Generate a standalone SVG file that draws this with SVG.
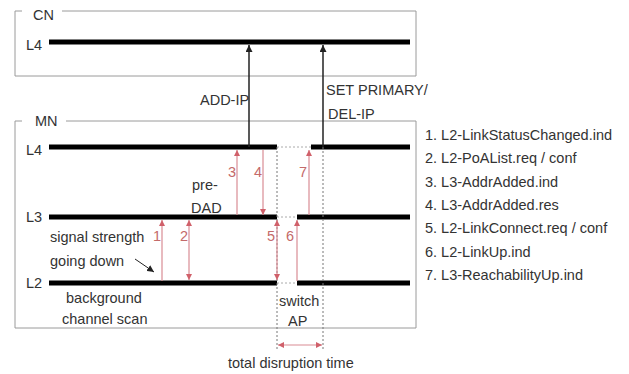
<svg xmlns="http://www.w3.org/2000/svg" width="629" height="374" viewBox="0 0 629 374">
<style>
text{font-family:"Liberation Sans",Arial,sans-serif;font-size:14.5px;fill:#333}
.box{fill:none;stroke:#9a9a9a;stroke-width:1}
.lane{stroke:#000;stroke-width:5}
.gap{stroke:#aaa;stroke-width:1;stroke-dasharray:2 2}
.dot{stroke:#777;stroke-width:1;stroke-dasharray:2 2}
.blk{stroke:#222;stroke-width:1.5;fill:none}
.red{stroke:#d98c94;stroke-width:1.2;fill:none}
.rt{fill:#c46a6a}
</style>
<defs>
<marker id="ab" viewBox="0 0 10 10" refX="10" refY="5" markerWidth="7" markerHeight="7" markerUnits="userSpaceOnUse" orient="auto-start-reverse"><path d="M0,0 L10,5 L0,10 z" fill="#222"/></marker>
<marker id="ar" viewBox="0 0 10 10" refX="10" refY="5" markerWidth="6" markerHeight="6" markerUnits="userSpaceOnUse" orient="auto-start-reverse"><path d="M0,0 L10,5 L0,10 z" fill="#d0606a"/></marker>
</defs>
<rect width="629" height="374" fill="#fff"/>

<g id="cn">
<path class="box" d="M22,11 H15 V76 H416 V11 H62"/>
<text x="33" y="20">CN</text>
<text x="26" y="50">L4</text>
<line class="lane" x1="49" y1="42" x2="410" y2="42"/>
</g>

<g id="mn">
<path class="box" d="M22,121 H15 V328 H416 V121 H66"/>
<text x="35" y="126">MN</text>
<text x="26" y="155">L4</text>
<text x="26" y="222">L3</text>
<text x="26" y="288">L2</text>
</g>

<g id="mn-l4">
<line class="lane" x1="49" y1="147" x2="277" y2="147"/>
<line class="lane" x1="311" y1="147" x2="410" y2="147"/>
<line class="gap" x1="277" y1="147" x2="311" y2="147"/>
</g>
<g id="mn-l3">
<line class="lane" x1="49" y1="217" x2="277" y2="217"/>
<line class="lane" x1="297" y1="217" x2="410" y2="217"/>
<line class="gap" x1="277" y1="217" x2="297" y2="217"/>
</g>
<g id="mn-l2">
<line class="lane" x1="49" y1="283" x2="277" y2="283"/>
<line class="lane" x1="297" y1="283" x2="410" y2="283"/>
<line class="gap" x1="277" y1="283" x2="297" y2="283"/>
</g>

<g id="labels">
<text x="200" y="105">ADD-IP</text>
<text x="326" y="95">SET PRIMARY/</text>
<text x="328" y="119">DEL-IP</text>
<text x="192" y="190">pre-</text>
<text x="191" y="213">DAD</text>
<text x="50" y="242">signal strength</text>
<text x="50" y="266">going down</text>
<text x="66" y="303">background</text>
<text x="62" y="324">channel scan</text>
<text x="279" y="306">switch</text>
<text x="288" y="326">AP</text>
<text x="228" y="368">total disruption time</text>
</g>

<g id="legend">
<text x="425" y="140">1. L2-LinkStatusChanged.ind</text>
<text x="425" y="163">2. L2-PoAList.req / conf</text>
<text x="425" y="187">3. L3-AddrAdded.ind</text>
<text x="425" y="210">4. L3-AddrAdded.res</text>
<text x="425" y="233">5. L2-LinkConnect.req / conf</text>
<text x="425" y="257">6. L2-LinkUp.ind</text>
<text x="425" y="280">7. L3-ReachabilityUp.ind</text>
</g>

<g id="connectors">
<line class="dot" x1="277" y1="147" x2="277" y2="350"/>
<line class="dot" x1="323" y1="147" x2="323" y2="350"/>
<line class="blk" x1="249" y1="147" x2="249" y2="45" marker-end="url(#ab)"/>
<line class="blk" x1="323" y1="147" x2="323" y2="45" marker-end="url(#ab)"/>
<line class="blk" x1="135" y1="259" x2="154" y2="272" marker-end="url(#ab)" style="stroke-width:1"/>

<line class="red" x1="237" y1="215" x2="237" y2="150" marker-end="url(#ar)"/>
<line class="red" x1="263" y1="150" x2="263" y2="215" marker-end="url(#ar)"/>
<line class="red" x1="309" y1="215" x2="309" y2="150" marker-end="url(#ar)"/>
<line class="red" x1="162" y1="281" x2="162" y2="220" marker-end="url(#ar)"/>
<line class="red" x1="189" y1="220" x2="189" y2="280" marker-start="url(#ar)" marker-end="url(#ar)"/>
<line class="red" x1="277" y1="220" x2="277" y2="280" marker-start="url(#ar)" marker-end="url(#ar)"/>
<line class="red" x1="297" y1="281" x2="297" y2="220" marker-end="url(#ar)"/>
<line class="red" x1="278" y1="345" x2="322" y2="345" marker-start="url(#ar)" marker-end="url(#ar)"/>

<text class="rt" x="228" y="177">3</text>
<text class="rt" x="254" y="177">4</text>
<text class="rt" x="299" y="177">7</text>
<text class="rt" x="153" y="241">1</text>
<text class="rt" x="180" y="241">2</text>
<text class="rt" x="267" y="241">5</text>
<text class="rt" x="286" y="241">6</text>
</g>
</svg>
